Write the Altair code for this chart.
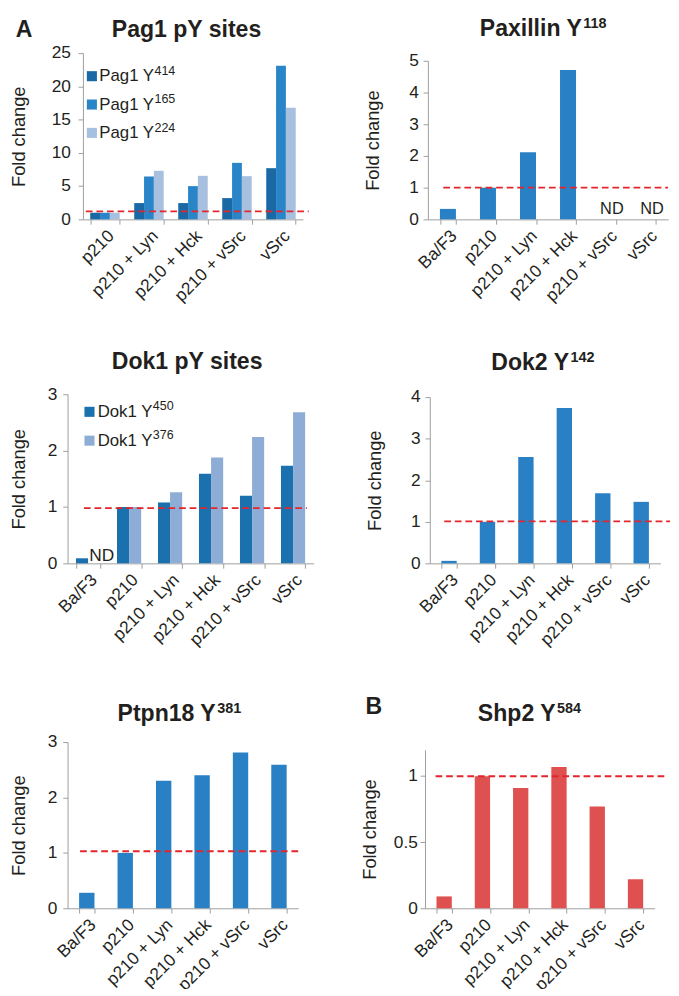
import altair as alt
import pandas as pd

FONT = "Liberation Sans"
TXT = "#231f20"
GREY = "#9b9b9b"
RED = "#e3262c"

# ---------------- data ----------------
conds5 = ["p210", "p210 + Lyn", "p210 + Hck", "p210 + vSrc", "vSrc"]
conds6 = ["Ba/F3", "p210", "p210 + Lyn", "p210 + Hck", "p210 + vSrc", "vSrc"]

pag1_site_name = "Pag1 Y"
pag1_site_nums = ["414", "165", "224"]
pag1_y414 = [1.0, 2.45, 2.45, 3.2, 7.7]
pag1_y165 = [1.0, 6.45, 5.0, 8.5, 23.1]
pag1_y224 = [1.0, 7.3, 6.55, 6.5, 16.8]
pag1_colors = ["#1b69a4", "#2a85c8", "#a8c0df"]

paxillin = [0.33, 1.0, 2.12, 4.71, None, None]
paxillin_nd = ["", "", "", "", "ND", "ND"]

dok1_site_name = "Dok1 Y"
dok1_site_nums = ["450", "376"]
dok1_y450 = [0.09, 1.0, 1.08, 1.59, 1.2, 1.73]
dok1_y376 = [None, 1.0, 1.26, 1.88, 2.24, 2.68]
dok1_colors = ["#1b71ad", "#8eadd6"]

dok2 = [0.06, 1.0, 2.56, 3.74, 1.69, 1.48]
ptpn18 = [0.28, 1.0, 2.3, 2.4, 2.81, 2.59]
shp2 = [0.09, 1.0, 0.91, 1.07, 0.77, 0.22]

ref_levels = [1.2, 1.0, 0.98, 1.01, 1.03, 1.0]

BLUE = "#2980c4"
REDBAR = "#de5150"

# Arial/Liberation Sans advance widths (per 1000 em), used to place superscripts
BOLD_W = {"P": 667, "a": 556, "x": 556, "i": 278, "l": 278, "n": 611, " ": 278, "Y": 667,
          "D": 722, "o": 611, "k": 556, "2": 556, "t": 333, "p": 611, "1": 556, "8": 556,
          "S": 667, "h": 611, "g": 611, "s": 556, "e": 556}
REG_W = {"P": 667, "a": 556, "g": 556, "1": 556, " ": 278, "Y": 667, "D": 722, "o": 556,
         "k": 500}
TITLE_FS = 24
SUP_FS = 15
LEG_FS = 17.5
LEG_SUP_FS = 13


def text_w(s, fs, table):
    return sum(table.get(ch, 600) for ch in s) * fs / 1000.0


# ---------------- helpers ----------------
def yax(vals, ext, lp, off):
    return alt.Axis(title="Fold change", values=vals, format="~g", grid=False,
                    labelOverlap=False, domainColor=GREY, tickColor=GREY, tickSize=5,
                    labelPadding=lp, labelFont=FONT, labelFontSize=18, labelColor=TXT,
                    titleFont=FONT, titleFontSize=19, titleFontWeight="normal",
                    titleColor=TXT, titlePadding=8, minExtent=ext, maxExtent=ext,
                    offset=off)


def xax():
    return alt.Axis(title=None, labelAngle=-45, tickBand="extent", domainColor=GREY,
                    tickColor=GREY, tickSize=5, labelPadding=3, labelFont=FONT,
                    labelFontSize=18, labelColor=TXT, labelOverlap=False)


def txt_layer(s, px, py, fs, bold=True):
    return alt.Chart(pd.DataFrame({"t": [s]})).mark_text(
        font=FONT, fontSize=fs, fontWeight="bold" if bold else "normal", color=TXT,
        align="left", baseline="alphabetic"
    ).encode(text="t:N", x=alt.value(px), y=alt.value(py))


def title_layers(main, sup, px, py):
    out = [txt_layer(main, px, py, TITLE_FS)]
    if sup:
        out.append(txt_layer(sup, px + text_w(main, TITLE_FS, BOLD_W) + 1, py - 8.3, SUP_FS))
    return out


def legend_layers(name, nums, colors, sq_x, y0, dy, tx):
    out = []
    for i, (num, c) in enumerate(zip(nums, colors)):
        cy = y0 + i * dy
        out.append(alt.Chart(pd.DataFrame({"c": [c]})).mark_square(
            size=110, color=c, opacity=1).encode(x=alt.value(sq_x), y=alt.value(cy)))
        out.append(txt_layer(name, tx, cy + 5.3, LEG_FS, bold=False))
        out.append(txt_layer(num, tx + text_w(name, LEG_FS, REG_W), cy - 1.4, LEG_SUP_FS,
                             bold=False))
    return out


def yscale(ymax, h, top):
    return alt.Scale(domain=[0, ymax], nice=False, range=[h, top])


def ref_rule(val, x1, x2, yaxis, ysc):
    return alt.Chart(pd.DataFrame({"fc": [val]})).mark_rule(
        color=RED, strokeWidth=2, strokeDash=[7, 4]
    ).encode(y=alt.Y("fc:Q", axis=yaxis, scale=ysc), x=alt.value(x1), x2=alt.value(x2))


def build(bars_fn, extra, ref, rx, w, h, shift):
    bars, yaxis, ysc = bars_fn()
    layers = [bars, ref_rule(ref, rx[0] - shift, rx[1] - shift, yaxis, ysc)]
    layers += [e(yaxis, ysc) if callable(e) else e for e in extra]
    return alt.layer(*layers).properties(width=w - shift, height=h)


def single_panel(values, color, ymax, yvals, ext, lp, ref, rx, w, h, top, shift=0, extra=()):
    def bars_fn():
        df = pd.DataFrame({"cond": conds6, "fc": values})
        x = alt.X("cond:N", sort=conds6,
                  scale=alt.Scale(domain=conds6, paddingInner=0.6, paddingOuter=0.3,
                                  range=[-shift, w - shift]), axis=xax())
        ysc = yscale(ymax, h, top)
        yaxis = yax(yvals, ext, lp, shift)
        bars = alt.Chart(df).mark_bar(color=color).encode(
            x=x, y=alt.Y("fc:Q", scale=ysc, axis=yaxis))
        return bars, yaxis, ysc
    return build(bars_fn, extra, ref, rx, w, h, shift)


def grouped_panel(conds, sites, series, colors, pi, ymax, yvals, ext, lp,
                  ref, rx, w, h, top, shift=0, extra=()):
    def bars_fn():
        rows = []
        for s, vals in zip(sites, series):
            for c, v in zip(conds, vals):
                rows.append({"cond": c, "site": s, "fc": v})
        df = pd.DataFrame(rows)
        x = alt.X("cond:N", sort=conds,
                  scale=alt.Scale(domain=conds, paddingInner=pi, paddingOuter=pi / 2,
                                  range=[-shift, w - shift]), axis=xax())
        xo = alt.XOffset("site:N", sort=sites,
                         scale=alt.Scale(domain=sites, paddingInner=0, paddingOuter=0))
        col = alt.Color("site:N", sort=sites, scale=alt.Scale(domain=sites, range=colors),
                        legend=None)
        ysc = yscale(ymax, h, top)
        yaxis = yax(yvals, ext, lp, shift)
        bars = alt.Chart(df).mark_bar().encode(
            x=x, xOffset=xo, color=col, y=alt.Y("fc:Q", scale=ysc, axis=yaxis))
        return bars, yaxis, ysc
    return build(bars_fn, extra, ref, rx, w, h, shift)


# ---------------- panels ----------------
S = 16  # left-column panels 3 and 5 sit this far left of panel 1's plot origin

pag1_sites = [pag1_site_name + n for n in pag1_site_nums]
p1 = grouped_panel(conds5, pag1_sites, [pag1_y414, pag1_y165, pag1_y224], pag1_colors, 0.33,
                   25, [0, 5, 10, 15, 20, 25], 49, 8, ref_levels[0], (3, 235),
                   229, 173, 0,
                   extra=[txt_layer("A", -70, -17, 24)]
                   + title_layers("Pag1 pY sites", None, 30, -17)
                   + legend_layers(pag1_site_name, pag1_site_nums, pag1_colors,
                                   9.3, 24, 29.5, 17))

nd2 = pd.DataFrame({"cond": conds6, "fc": [0] * 6, "label": paxillin_nd})
nd2 = nd2[nd2["label"] != ""]


def nd2_layer(yaxis, ysc):
    return alt.Chart(nd2).mark_text(font=FONT, fontSize=17, color=TXT, baseline="alphabetic",
                                    dx=4, dy=-6).encode(
        x=alt.X("cond:N", sort=conds6), y=alt.Y("fc:Q", axis=yaxis, scale=ysc),
        text="label:N")


p2 = single_panel(paxillin, BLUE, 5, [0, 1, 2, 3, 4, 5], 39, 5, ref_levels[1], (16, 250),
                  250, 173, 8,
                  extra=[nd2_layer] + title_layers("Paxillin Y", "118", 54, -18))

dok1_sites = [dok1_site_name + n for n in dok1_site_nums]
nd3 = pd.DataFrame({"cond": ["Ba/F3"], "site": [dok1_sites[1]], "fc": [0], "label": ["ND"]})


def nd3_layer(yaxis, ysc):
    return alt.Chart(nd3).mark_text(font=FONT, fontSize=18, color=TXT, baseline="alphabetic",
                                    align="left", dx=-5, dy=-2).encode(
        x=alt.X("cond:N", sort=conds6),
        xOffset=alt.XOffset("site:N", sort=dok1_sites),
        y=alt.Y("fc:Q", axis=yaxis, scale=ysc), text="label:N")


p3 = grouped_panel(conds6, dok1_sites, [dok1_y450, dok1_y376], dok1_colors, 0.41,
                   3, [0, 1, 2, 3], 33, 6, ref_levels[2], (17, 249),
                   256, 176, 0, shift=S,
                   extra=[nd3_layer] + title_layers("Dok1 pY sites", None, 46 - S, -26)
                   + legend_layers(dok1_site_name, dok1_site_nums, dok1_colors,
                                   22.8 - S, 18.3, 30, 31.3 - S))

p4 = single_panel(dok2, BLUE, 4, [0, 1, 2, 3, 4], 39, 5, ref_levels[3], (15, 250),
                  240, 176, 3, extra=title_layers("Dok2 Y", "142", 64, -25))

p5 = single_panel(ptpn18, BLUE, 3, [0, 1, 2, 3], 33, 6, ref_levels[4], (13, 244),
                  240, 173, 0, shift=S, extra=title_layers("Ptpn18 Y", "381", 52 - S, -22))

p6 = single_panel(shp2, REDBAR, 1.2, [0, 0.5, 1], 39, 3, ref_levels[5], (11, 250),
                  239, 173, 8,
                  extra=[txt_layer("B", -62, -29, 24)] + title_layers("Shp2 Y", "584", 55, -22))

IND = dict(color="independent", xOffset="independent")
row1 = alt.hconcat(p1, p2, spacing=57).resolve_scale(**IND)
row2 = alt.hconcat(p3, p4, spacing=39).resolve_scale(**IND)
row3 = alt.hconcat(p5, p6, spacing=50).resolve_scale(**IND)

top_rows = alt.vconcat(row1, row2, spacing=46).resolve_scale(**IND)
chart = alt.vconcat(top_rows, row3, spacing=48).resolve_scale(**IND).properties(
    padding={"left": 2, "top": -12, "right": 0, "bottom": -26}
).configure_view(stroke=None)

chart.save("out.html", embed_options={"renderer": "svg", "actions": False})
